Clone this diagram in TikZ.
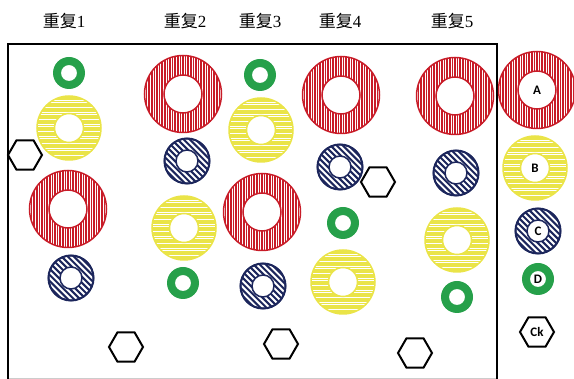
\documentclass[tikz,border=0pt]{standalone}
\usepackage{fontspec}
\setmainfont{Liberation Serif}
\newfontfamily\cjk{Noto Sans CJK SC}
\newfontfamily\lab{Carlito}
\usetikzlibrary{shapes.geometric}
\definecolor{rrd}{RGB}{200,28,40}
\definecolor{yel}{RGB}{234,228,72}
\definecolor{nav}{RGB}{28,38,92}
\definecolor{grn}{RGB}{38,160,74}
% hatched ring: x, y, R, r, colour, angle, spacing, line width
\newcommand\hring[8]{%
 \begin{scope}[shift={(#1,#2)}]
  \begin{scope}
   \clip (0,0) circle (#3pt);
   \begin{scope}[rotate=#6]
    \foreach \k in {-20,...,20} \draw[#5, line width=#8pt] (-45pt,\k*#7 pt) -- (45pt,\k*#7 pt);
   \end{scope}
  \end{scope}
  \fill[white] (0,0) circle (#4pt);
  \draw[#5, line width=1.5pt] (0,0) circle (#3pt) (0,0) circle (#4pt);
 \end{scope}}
\newcommand\redring[2]{\hring{#1}{#2}{38.5}{19}{rrd}{90}{2.6}{1.6}}
\newcommand\yelring[2]{\hring{#1}{#2}{32}{14.5}{yel}{0}{2.4}{1.8}}
\newcommand\navring[2]{%
 \hring{#1}{#2}{22.5}{11}{nav}{-45}{4.3}{2.1}%
 \draw[nav, line width=2pt] (#1,#2) circle (22.5pt);}
\newcommand\grnring[2]{\fill[grn, even odd rule] (#1,#2) circle (16pt) (#1,#2) circle (8pt);}
\begin{document}
\begin{tikzpicture}[x=1pt,y=-1pt,
  hexa/.style={draw, line width=2pt, regular polygon, regular polygon sides=6, minimum size=34pt, inner sep=0pt, font=\lab\bfseries\fontsize{13}{13}\selectfont},
  title/.style={font=\fontsize{17}{17}\selectfont, inner sep=0pt},
  letter/.style={font=\lab\bfseries\fontsize{13}{13}\selectfont, inner sep=0pt}]
\useasboundingbox (0,0) rectangle (574,379);
% titles
\node[title] (t1) at (64,21) {{\cjk 重复}1};
\node[title] (t2) at (185,21) {{\cjk 重复}2};
\node[title] (t3) at (260,21) {{\cjk 重复}3};
\node[title] (t4) at (340,21) {{\cjk 重复}4};
\node[title] (t5) at (452,21) {{\cjk 重复}5};
% frame
\draw[gray!40, line width=1pt] (8,378.3) -- (497,378.3);
\draw[line width=2pt] (8,379) -- (8,44) -- (497,44) -- (497,379);
% column 1
\grnring{69}{73}
\yelring{69}{128}
\redring{68}{209}
\navring{71}{278}
% column 2
\redring{183}{94}
\navring{187}{161}
\yelring{184}{228}
\grnring{183}{283}
% column 3
\grnring{260}{75}
\yelring{261}{130}
\redring{262}{212}
\navring{263}{286}
% column 4
\redring{341}{95}
\navring{340}{167}
\grnring{343}{223}
\yelring{343}{282}
% column 5
\redring{455}{96}
\navring{456}{173}
\yelring{457}{240}
\grnring{457}{297}
% legend
\redring{537}{90}
\yelring{535}{168}
\navring{538}{231}
\grnring{538}{279}
\node[letter] (la) at (537,90) {A};
\node[letter] (lb) at (535,168) {B};
\node[letter] (lc) at (538,231) {C};
\node[letter] (ld) at (538,279) {D};
% hexagons
\node[hexa] (h1) at (25,155) {};
\node[hexa] (h2) at (126,347) {};
\node[hexa] (h3) at (281,344) {};
\node[hexa] (h4) at (378,182) {};
\node[hexa] (h5) at (415,353) {};
\node[hexa] (hk) at (537,332) {Ck};
\end{tikzpicture}
\end{document}
